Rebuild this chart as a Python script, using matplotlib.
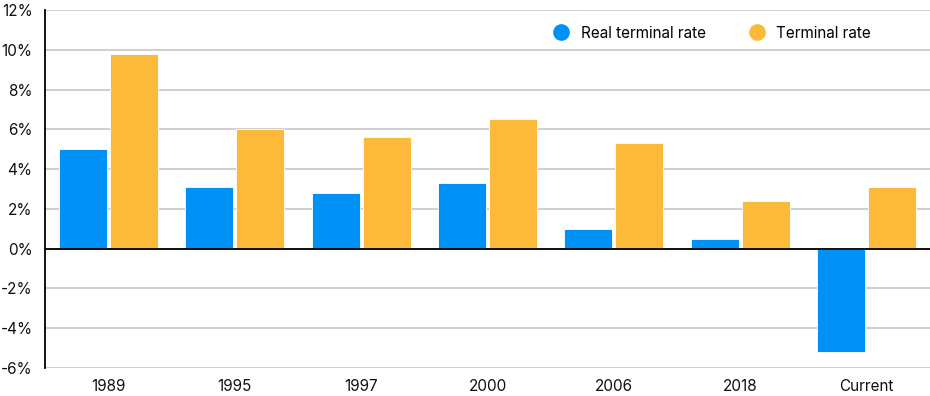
import matplotlib
matplotlib.use("Agg")
import matplotlib.pyplot as plt
import numpy as np
from matplotlib.lines import Line2D

categories = ["1989", "1995", "1997", "2000", "2006", "2018", "Current"]
real_terminal = [5.0, 3.1, 2.8, 3.3, 1.0, 0.5, -5.2]
terminal = [9.8, 6.0, 5.6, 6.5, 5.3, 2.4, 3.1]
yticks = [-6, -4, -2, 0, 2, 4, 6, 8, 10, 12]

plt.rcParams['font.family'] = ['Inter', 'DejaVu Sans']

fig = plt.figure(figsize=(9.3, 3.96), dpi=100)
ax = fig.add_axes([45/930, 28/396, 885/930, 358/396])

blue = "#0091F7"
yellow = "#FDBA3A"
x = np.arange(len(categories))
w = 0.38
ax.bar(x - w/2 - 0.012, real_terminal, width=w, color=blue, edgecolor="white", linewidth=0.6, zorder=3)
ax.bar(x + w/2 + 0.012, terminal, width=w, color=yellow, edgecolor="white", linewidth=0.6, zorder=3)

ax.set_xlim(-0.5, len(categories) - 0.5)
ax.set_ylim(-6, 12)
ax.set_yticks(yticks)
ax.set_yticklabels([f"{v}%" for v in yticks])
ax.set_xticks(x)
ax.set_xticklabels(categories)
ax.yaxis.grid(True, color="#cccccc", linewidth=1.3, zorder=0)
ax.set_axisbelow(True)
ax.axhline(0, color="black", linewidth=1.3, zorder=4)
for s in ["top", "right", "bottom"]:
    ax.spines[s].set_visible(False)
ax.spines["left"].set_color("black")
ax.spines["left"].set_linewidth(1.3)
ax.tick_params(axis="both", length=0, labelsize=11, colors="#111111")
ax.tick_params(axis="y", pad=9)
ax.tick_params(axis="x", pad=8)

handles = [Line2D([], [], marker="o", linestyle="", markersize=11, color=blue, label="Real terminal rate"),
           Line2D([], [], marker="o", linestyle="", markersize=11, color=yellow, label="Terminal rate")]
ax.legend(handles=handles, loc="upper right", bbox_to_anchor=(0.949, 0.995), ncol=2, frameon=False,
          fontsize=11, handletextpad=0.3, columnspacing=2.3)

fig.savefig("out.png", dpi=100)
